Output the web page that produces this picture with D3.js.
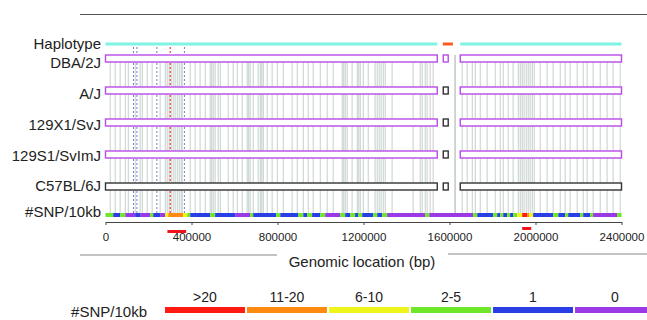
<!DOCTYPE html>
<html>
<head>
<meta charset="utf-8">
<script src="https://cdn.jsdelivr.net/npm/d3@7"></script>
<style>
  body { margin: 0; background: #fff; }
  text { font-family: "Liberation Sans", Arial, sans-serif; fill: #222; }
</style>
</head>
<body>
<svg id="chart" width="647" height="320"></svg>
<script>
// ---- data (kb unless noted) ----
const strains = ['DBA/2J', 'A/J', '129X1/SvJ', '129S1/SvImJ', 'C57BL/6J'];
const strainBoxColors = ['#b94ae8', '#b94ae8', '#b94ae8', '#b94ae8', '#333333'];
const smallBoxColors = ['#b94ae8', '#333333', '#333333', '#333333', '#333333'];

// sequenced blocks
const blocks = [[0, 1543], [1650, 2400]];
const smallBlock = [1571, 1594];
const gapMarker = 1626;

// haplotype track: [start, end, kind]
const haplotype = [[0, 1543, 'A'], [1569, 1616, 'B'], [1650, 2400, 'A']];
const haplotypeColors = { A: '#7ff3e4', B: '#ff5a1e' };

// SNP positions (kb)
const snps = [22, 45, 68, 92, 106, 138, 161, 171, 194, 217, 254,
  278, 287, 296, 306, 315, 324, 334, 343, 352, 357,
  394, 417, 440, 464, 487, 494, 501, 510, 524, 534, 571, 594, 613, 636,
  659, 666, 673, 687, 710, 720, 727, 734, 752, 775, 799, 827, 868, 892,
  920, 943, 966, 999, 1031, 1059, 1101, 1108, 1115, 1124, 1147,
  1171, 1178, 1185, 1199, 1222, 1254, 1264, 1273, 1282, 1292, 1301,
  1333, 1431, 1464, 1473, 1487, 1496, 1510, 1524,
  1659, 1682, 1706, 1720, 1743, 1775, 1813, 1836, 1850, 1873, 1896,
  1920, 1929, 1938, 1947, 1957, 1966, 1975, 1985, 1994,
  2022, 2054, 2082, 2115, 2138, 2161, 2194, 2222, 2240, 2268, 2301, 2333, 2361, 2394];

// dashed marker lines (kb)
const blueMarkers = [130, 146, 239, 367];
const redMarkers = [301];

// SNP density track: [start, end, class index]
const densityClasses = ['>20', '11-20', '6-10', '2-5', '1', '0'];
const densityColors = ['#ff1a12', '#ff8a12', '#eef51a', '#6ee62a', '#2a3ee6', '#9a3ae6'];
const density = [
  [0, 36, 3], [36, 68, 4], [68, 92, 3], [92, 138, 5], [138, 161, 4], [161, 208, 5],
  [208, 222, 3], [222, 254, 4], [254, 278, 5], [278, 292, 2], [292, 361, 1], [361, 380, 2],
  [380, 394, 3], [394, 487, 4], [487, 510, 3], [510, 603, 4], [603, 673, 5], [673, 687, 3],
  [687, 794, 4], [794, 813, 3], [813, 896, 4], [896, 920, 3], [920, 938, 4], [938, 961, 3],
  [961, 999, 4], [999, 1022, 3], [1022, 1092, 5], [1092, 1115, 3], [1115, 1138, 4],
  [1138, 1161, 3], [1161, 1175, 4], [1175, 1194, 3], [1194, 1245, 4], [1245, 1264, 3],
  [1264, 1287, 4], [1287, 1310, 3], [1310, 1487, 5], [1487, 1506, 3], [1506, 1710, 5],
  [1710, 1729, 3], [1729, 1803, 4], [1803, 1822, 3], [1822, 1836, 4], [1836, 1850, 3],
  [1850, 1868, 4], [1868, 1882, 3], [1882, 1896, 4], [1896, 1915, 3], [1915, 1938, 2],
  [1938, 1961, 0], [1961, 1971, 1], [1971, 1989, 2], [1989, 2082, 4], [2082, 2106, 3],
  [2106, 2138, 4], [2138, 2152, 3], [2152, 2208, 4], [2208, 2222, 3], [2222, 2254, 4],
  [2254, 2268, 3], [2268, 2380, 5], [2380, 2400, 3]];

// highlighted regions under the axis (kb)
const highlights = [[288, 375], [1938, 1980]];

const tickValues = [0, 400000, 800000, 1200000, 1600000, 2000000, 2400000];

// ---- layout ----
const svg = d3.select('#chart');
const x = d3.scaleLinear().domain([0, 2400]).range([105.5, 621.5]);
const xAxisScale = d3.scaleLinear().domain([0, 2400000]).range([105.5, 621.5]);
const rowY = d3.scaleLinear().domain([0, strains.length - 1]).range([58.5, 186.5]);
const labelRowY = d3.scaleLinear().domain([0, strains.length - 1]).range([63, 186]);
const boxH = 7;
const hapY = 44;
const snpY = 215;
const axisY = 222;
const labelX = 101;

svg.append('rect').attr('width', 647).attr('height', 320).attr('fill', '#fff');

// top rule
svg.append('line').attr('x1', 80).attr('x2', 647).attr('y1', 14.5).attr('y2', 14.5)
  .attr('stroke', '#555').attr('stroke-width', 1);

// SNP vertical lines
svg.append('g').selectAll('line').data(snps).enter().append('line')
  .attr('x1', d => x(d)).attr('x2', d => x(d))
  .attr('y1', rowY(0) - boxH / 2).attr('y2', snpY - 2)
  .attr('stroke', '#94aaa2').attr('stroke-opacity', 0.55).attr('stroke-width', 1);

svg.append('line').attr('x1', x(gapMarker)).attr('x2', x(gapMarker))
  .attr('y1', rowY(0) - boxH / 2).attr('y2', snpY - 2)
  .attr('stroke', '#c4ccc8').attr('stroke-width', 1.6);

// dashed markers
svg.append('g').selectAll('line').data(blueMarkers).enter().append('line')
  .attr('x1', d => x(d)).attr('x2', d => x(d))
  .attr('y1', hapY + 3).attr('y2', snpY - 2)
  .attr('stroke', '#7a78c8').attr('stroke-width', 1).attr('stroke-dasharray', '2,2');
svg.append('g').selectAll('line').data(redMarkers).enter().append('line')
  .attr('x1', d => x(d)).attr('x2', d => x(d))
  .attr('y1', hapY + 3).attr('y2', snpY - 2)
  .attr('stroke', '#ff4040').attr('stroke-width', 1.3).attr('stroke-dasharray', '2,2');

// haplotype track
svg.append('g').selectAll('line').data(haplotype).enter().append('line')
  .attr('x1', d => x(d[0])).attr('x2', d => x(d[1]))
  .attr('y1', hapY).attr('y2', hapY)
  .attr('stroke', d => haplotypeColors[d[2]]).attr('stroke-width', 3);

// strain boxes
strains.forEach((s, i) => {
  const g = svg.append('g');
  g.selectAll('rect.blk').data(blocks).enter().append('rect')
    .attr('x', d => x(d[0])).attr('width', d => x(d[1]) - x(d[0]))
    .attr('y', rowY(i) - boxH / 2).attr('height', boxH)
    .attr('fill', '#fff').attr('stroke', strainBoxColors[i]).attr('stroke-width', 1.4);
  g.append('rect')
    .attr('x', x(smallBlock[0])).attr('width', x(smallBlock[1]) - x(smallBlock[0]))
    .attr('y', rowY(i) - boxH / 2).attr('height', boxH)
    .attr('fill', '#fff').attr('stroke', smallBoxColors[i]).attr('stroke-width', 1.4);
});

// SNP density track
svg.append('g').selectAll('rect').data(density).enter().append('rect')
  .attr('x', d => x(d[0])).attr('width', d => x(d[1]) - x(d[0]))
  .attr('y', snpY - 2).attr('height', 4)
  .attr('fill', d => densityColors[d[2]]);

// row labels
const labels = ['Haplotype'].concat(strains, ['#SNP/10kb']);
const labelYs = [hapY].concat(strains.map((s, i) => labelRowY(i)), [snpY - 3]);
svg.append('g').selectAll('text').data(labels).enter().append('text')
  .attr('x', labelX).attr('y', (d, i) => labelYs[i])
  .attr('dy', '0.36em').attr('text-anchor', 'end')
  .style('font-size', '15px').text(d => d);

// axis
const axis = d3.axisBottom(xAxisScale).tickValues(tickValues)
  .tickFormat(d3.format('d')).tickSize(3).tickSizeOuter(0).tickPadding(8);
const ax = svg.append('g').attr('transform', `translate(0,${axisY})`).call(axis);
ax.select('.domain').attr('stroke', '#444');
ax.selectAll('.tick line').attr('stroke', '#444');
ax.selectAll('.tick text').style('font-size', '11.5px').attr('fill', '#222');

// highlighted regions
svg.append('g').selectAll('rect').data(highlights).enter().append('rect')
  .attr('x', d => x(d[0])).attr('width', d => x(d[1]) - x(d[0]))
  .attr('y', (d, i) => i === 0 ? 230 : 227).attr('height', 3)
  .attr('fill', '#f0141a');

// axis title with rules
svg.append('line').attr('x1', 80).attr('x2', 277).attr('y1', 255).attr('y2', 255)
  .attr('stroke', '#888');
svg.append('line').attr('x1', 448).attr('x2', 647).attr('y1', 254).attr('y2', 254)
  .attr('stroke', '#888');
svg.append('text').attr('x', 362).attr('y', 267).attr('text-anchor', 'middle')
  .style('font-size', '15px').text('Genomic location (bp)');

// legend
const legendX = d3.scaleBand().domain(densityClasses).range([165, 655]).paddingInner(0.025);
svg.append('text').attr('x', 147).attr('y', 317).attr('text-anchor', 'end')
  .style('font-size', '15px').text('#SNP/10kb');
const lg = svg.append('g').selectAll('g').data(densityClasses).enter().append('g');
lg.append('rect').attr('x', d => legendX(d)).attr('width', legendX.bandwidth())
  .attr('y', 307).attr('height', 6)
  .attr('fill', (d, i) => densityColors[i]);
lg.append('text').attr('x', d => legendX(d) + legendX.bandwidth() / 2).attr('y', 302)
  .attr('text-anchor', 'middle').style('font-size', '14px').text(d => d);
</script>
</body>
</html>
